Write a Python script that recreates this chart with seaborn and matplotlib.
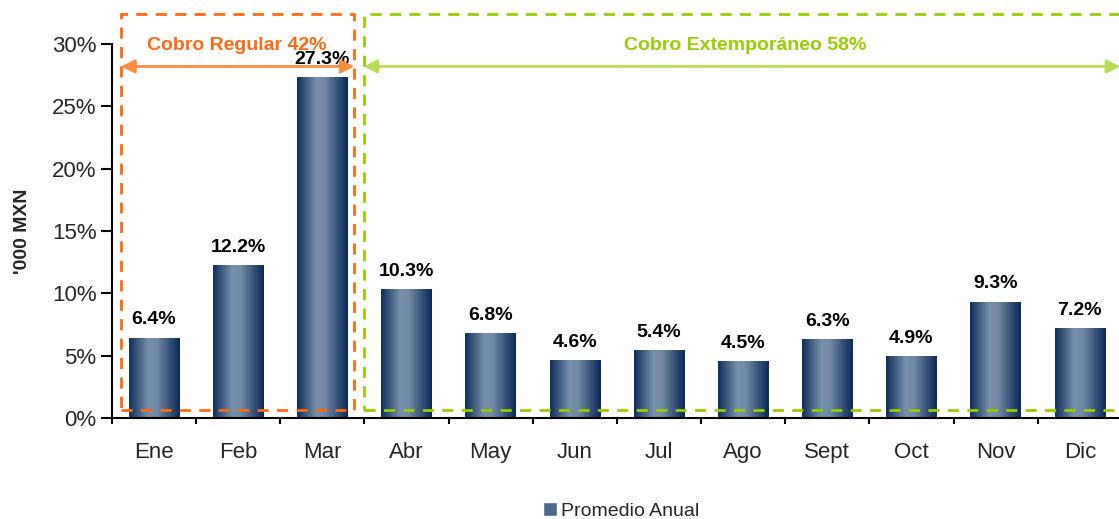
import numpy as np
import pandas as pd
import seaborn as sns
import matplotlib.pyplot as plt
from matplotlib.colors import LinearSegmentedColormap
from matplotlib.patches import Rectangle, Patch

# Datos
meses = ['Ene', 'Feb', 'Mar', 'Abr', 'May', 'Jun', 'Jul', 'Ago', 'Sept', 'Oct', 'Nov', 'Dic']
promedio = [6.4, 12.2, 27.3, 10.3, 6.8, 4.6, 5.4, 4.5, 6.3, 4.9, 9.3, 7.2]
etiquetas = ['6.4%', '12.2%', '27.3%', '10.3%', '6.8%', '4.6%', '5.4%', '4.5%', '6.3%', '4.9%', '9.3%', '7.2%']
yticks = [0, 5, 10, 15, 20, 25, 30]
titulo_regular = 'Cobro Regular 42%'
titulo_extemp = 'Cobro Extemporáneo 58%'

df = pd.DataFrame({'mes': meses, 'valor': promedio})

sns.set_style('ticks')
plt.rcParams['font.family'] = ['Liberation Sans', 'DejaVu Sans']

fig = plt.figure(figsize=(11.19, 5.19), dpi=100)
ax = fig.add_axes([0.1, 0.1946, 0.9026, 0.7206])

sns.barplot(data=df, x='mes', y='valor', color='#4d6a8e', width=0.6, ax=ax)

# degradado en las barras
cmap = LinearSegmentedColormap.from_list('barra', [(0, '#10305e'), (0.38, '#7891ab'),
                                                   (0.55, '#7189a4'), (1, '#0b2a58')])
grad = np.linspace(0, 1, 64).reshape(1, -1)
for p in ax.patches:
    x, w, h = p.get_x(), p.get_width(), p.get_height()
    ax.imshow(grad, extent=[x, x + w, 0, h], aspect='auto', cmap=cmap, zorder=2)
    p.set_visible(False)

for i, (v, t) in enumerate(zip(promedio, etiquetas)):
    ax.annotate(t, (i, v), xytext=(0, 7), textcoords='offset points', ha='center',
                va='bottom', fontsize=14, fontweight='bold', color='black')

ax.set_xlim(-0.5, 11.5)
ax.set_ylim(0, 30)
ax.set_yticks(yticks)
ax.set_yticklabels([f'{t}%' for t in yticks], fontsize=16)
ax.set_xticks(range(12))
ax.set_xticklabels(meses, fontsize=16)
ax.set_xticks(np.arange(-0.5, 12, 1), minor=True)
ax.tick_params(axis='x', which='major', length=0, pad=17)
ax.tick_params(axis='x', which='minor', length=4.5, width=1.5, color='black')
ax.tick_params(axis='y', length=8, width=1.5, color='black', pad=3)
ax.set_xlabel('')
ax.set_ylabel("'000 MXN", fontsize=14, fontweight='bold', labelpad=15)
for s in ['top', 'right']:
    ax.spines[s].set_visible(False)
for s in ['left', 'bottom']:
    ax.spines[s].set_linewidth(1.5)
    ax.spines[s].set_color('black')

# recuadros punteados
naranja = '#ff6a13'
verde = '#99cc00'
ax.add_patch(Rectangle((-0.39, 0.64), 2.77, 31.76, fill=False, ls=(0, (4, 3)),
                       lw=2, ec=naranja, clip_on=False, zorder=4))
ax.add_patch(Rectangle((2.49, 0.64), 8.99, 31.76, fill=False, ls=(0, (4, 3)),
                       lw=2, ec=verde, clip_on=False, zorder=4))

# flechas
ax.annotate('', xy=(-0.39, 28.2), xytext=(2.38, 28.2), annotation_clip=False,
            arrowprops=dict(arrowstyle='<|-|>', color='#ff8c40', lw=2, mutation_scale=20,
                            shrinkA=0, shrinkB=0))
ax.annotate('', xy=(2.49, 28.2), xytext=(11.48, 28.2), annotation_clip=False,
            arrowprops=dict(arrowstyle='<|-|>', color='#b8dd55', lw=2, mutation_scale=20,
                            shrinkA=0, shrinkB=0))
ax.text(0.98, 29.9, titulo_regular, ha='center', va='center', fontsize=14,
        fontweight='bold', color=naranja)
ax.text(7.03, 29.9, titulo_extemp, ha='center', va='center', fontsize=14,
        fontweight='bold', color=verde)

fig.legend(handles=[Patch(facecolor='#4d6a8e', label='Promedio Anual')],
           loc='center', bbox_to_anchor=(0.555, 0.016), frameon=False, fontsize=14,
           handlelength=0.7, handleheight=0.7, handletextpad=0.2)

fig.savefig('out.png', dpi=100)
